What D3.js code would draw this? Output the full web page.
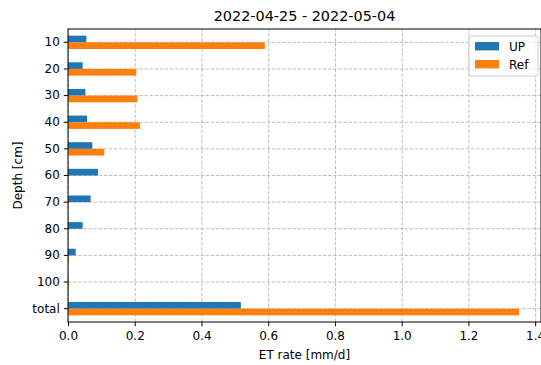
<!DOCTYPE html>
<html>
<head>
<meta charset="utf-8">
<script src="https://cdn.jsdelivr.net/npm/d3@7"></script>
<style>
  body { margin: 0; background: #fff; }
  svg text { font-family: "DejaVu Sans", sans-serif; fill: #000; }
  .grid line { stroke: #b0b0b0; stroke-dasharray: 3.5,1.6; stroke-width: 0.8; }
  .grid .domain { display: none; }
  .axis text { font-size: 12px; }
  .axis line, .axis path { stroke: #000; stroke-width: 1; }
</style>
</head>
<body>
<div id="chart"></div>
<script>
// data
var depths = ["10", "20", "30", "40", "50", "60", "70", "80", "90", "100", "total"];
var seriesNames = ["UP", "Ref"];
var upValues  = [0.055, 0.044, 0.052, 0.057, 0.073, 0.090, 0.068, 0.044, 0.023, 0.001, 0.518];
var refValues = [0.590, 0.205, 0.208, 0.216, 0.109, 0.001, 0.001, 0.001, 0.003, 0.003, 1.352];
var xTicks = [0.0, 0.2, 0.4, 0.6, 0.8, 1.0, 1.2, 1.4];
var colors = ["#1f77b4", "#ff7f0e"];

var W = 541, H = 365;
var margin = {top: 29, right: 0, bottom: 43, left: 68};
var width = W - margin.left - margin.right;
var height = H - margin.top - margin.bottom;

var rows = depths.map(function(d, i) {
    return {depth: d, values: [upValues[i], refValues[i]]};
});

var x = d3.scaleLinear().domain([0, 1.4175]).range([0, width]);
var y = d3.scaleBand().domain(depths).range([0, height])
    .paddingInner(0.5).paddingOuter(0.25);
var ySub = d3.scaleBand().domain(seriesNames).range([0, y.bandwidth()]);

var svg = d3.select("#chart").append("svg")
    .attr("width", W)
    .attr("height", H);

var g = svg.append("g")
    .attr("transform", "translate(" + margin.left + "," + margin.top + ")");

// gridlines
g.append("g")
    .attr("class", "grid")
    .attr("transform", "translate(0," + height + ")")
    .call(d3.axisBottom(x).tickValues(xTicks).tickSize(-height).tickFormat(""));

g.append("g")
    .attr("class", "grid")
    .call(d3.axisLeft(y).tickSize(-width).tickFormat(""));

// bars
var groups = g.selectAll(".row")
    .data(rows)
    .enter().append("g")
    .attr("class", "row")
    .attr("transform", function(d) { return "translate(0," + y(d.depth) + ")"; });

groups.selectAll("rect")
    .data(function(d) { return d.values.map(function(v, i) { return {name: seriesNames[i], v: v, i: i}; }); })
    .enter().append("rect")
    .attr("x", x(0))
    .attr("y", function(d) { return ySub(d.name); })
    .attr("width", function(d) { return x(d.v) - x(0); })
    .attr("height", ySub.bandwidth())
    .attr("fill", function(d) { return colors[d.i]; });

// spines
g.append("rect")
    .attr("width", width)
    .attr("height", height)
    .attr("fill", "none")
    .attr("stroke", "#000")
    .attr("stroke-width", 1);

// axes
var xAxis = g.append("g")
    .attr("class", "axis")
    .attr("transform", "translate(0," + height + ")")
    .call(d3.axisBottom(x).tickValues(xTicks).tickSize(4.2).tickPadding(5)
        .tickFormat(d3.format(".1f")));
xAxis.select(".domain").remove();

var yAxis = g.append("g")
    .attr("class", "axis")
    .call(d3.axisLeft(y).tickSize(4.2).tickPadding(4));
yAxis.select(".domain").remove();

// title and labels
svg.append("text")
    .attr("x", margin.left + width / 2)
    .attr("y", 21)
    .attr("text-anchor", "middle")
    .style("font-size", "14.4px")
    .text("2022-04-25 - 2022-05-04");

svg.append("text")
    .attr("x", margin.left + width / 2)
    .attr("y", 359)
    .attr("text-anchor", "middle")
    .style("font-size", "12px")
    .text("ET rate [mm/d]");

svg.append("text")
    .attr("transform", "translate(22," + (margin.top + height / 2) + ") rotate(-90)")
    .attr("text-anchor", "middle")
    .style("font-size", "12px")
    .text("Depth [cm]");

// legend
var legend = svg.append("g")
    .attr("transform", "translate(469,36)");

legend.append("rect")
    .attr("width", 69)
    .attr("height", 40)
    .attr("rx", 2.5)
    .attr("fill", "#fff")
    .attr("fill-opacity", 0.8)
    .attr("stroke", "#cccccc")
    .attr("stroke-width", 1);

seriesNames.forEach(function(name, i) {
    legend.append("rect")
        .attr("x", 6)
        .attr("y", 6 + i * 18)
        .attr("width", 24)
        .attr("height", 8.4)
        .attr("fill", colors[i]);
    legend.append("text")
        .attr("x", 40)
        .attr("y", 14.5 + i * 18)
        .style("font-size", "12px")
        .text(name);
});
</script>
</body>
</html>
